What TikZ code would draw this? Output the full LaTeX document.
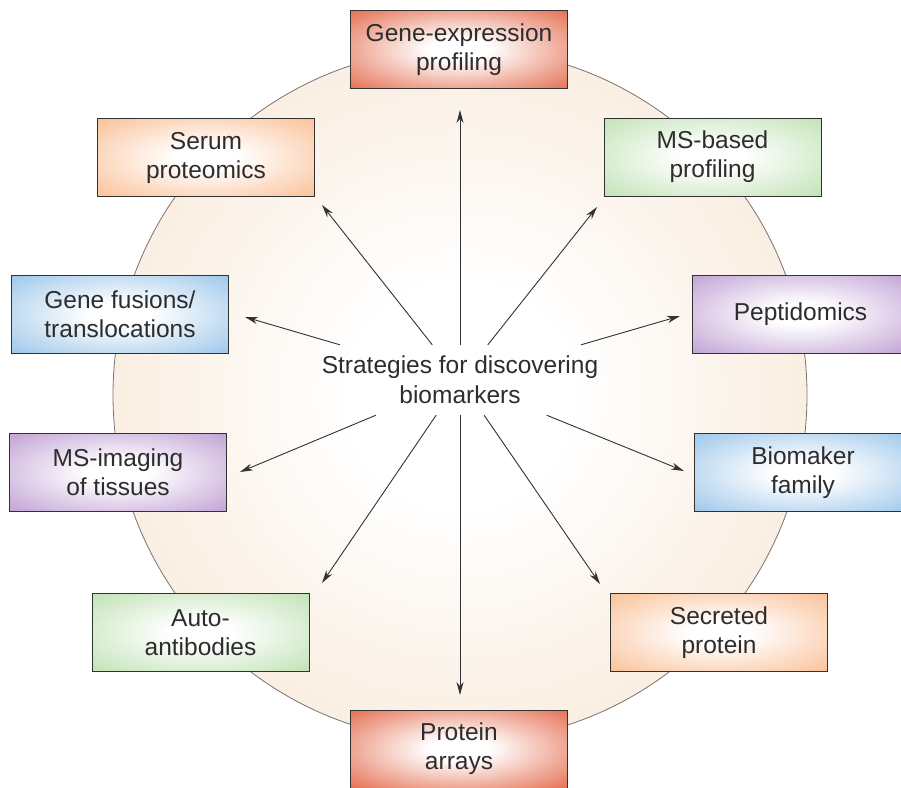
\documentclass[tikz,border=0pt]{standalone}
\usepackage{fontspec}
\setmainfont{Liberation Sans}
\usetikzlibrary{arrows.meta}

\definecolor{inktext}{RGB}{45, 45, 45}
\definecolor{boxline}{RGB}{50, 50, 50}
\definecolor{arrowgray}{RGB}{50, 50, 50}
\definecolor{ringgray}{RGB}{120, 115, 110}
\definecolor{discpeach}{RGB}{246, 224, 200}
\definecolor{hotred}{RGB}{228, 110, 80}
\definecolor{peach}{RGB}{250, 192, 150}
\definecolor{mint}{RGB}{192, 226, 180}
\definecolor{sky}{RGB}{155, 198, 234}
\definecolor{lilac}{RGB}{192, 160, 212}
\colorlet{glowcol}{peach}

\pgfdeclareradialshading[glowcol]{boxglow}{\pgfpointorigin}{%
  color(0bp)=(white); color(7bp)=(white); color(36bp)=(glowcol); color(100bp)=(glowcol)}
\pgfdeclareradialshading{discglow}{\pgfpointorigin}{%
  color(0bp)=(white); color(8bp)=(white); color(40bp)=(discpeach); color(100bp)=(discpeach)}

\begin{document}
\begin{tikzpicture}[x=1pt, y=-1pt,
  stratbox/.style={draw=boxline, line width=0.9pt, minimum width=217pt,
                   minimum height=78pt, align=center, inner sep=2pt, text=inktext,
                   font=\fontsize{24.5}{29}\selectfont, shade, shading=boxglow},
  glow/.style={/utils/exec={\colorlet{glowcol}{#1}}},
  arr/.style={-{Stealth[length=13pt, width=7pt]}, line width=0.9pt, draw=arrowgray}
]
  \useasboundingbox (0,0) rectangle (901,787);

  % background disc
  \node[circle, minimum size=694pt, inner sep=0pt, draw=ringgray, line width=0.8pt,
        shade, shading=discglow] (ring) at (460,395) {};

  % centre label
  \node[align=center, text=inktext, font=\fontsize{24.5}{30}\selectfont,
        minimum width=282pt, minimum height=70pt, inner sep=0pt] (hub) at (460,380)
        {Strategies for discovering\\biomarkers};

  % strategy boxes
  \node[stratbox, glow=hotred] (gexp) at (459,49.5) {Gene-expression\\profiling};
  \node[stratbox, glow=peach] (serum) at (206,157.5) {Serum\\proteomics};
  \node[stratbox, glow=mint] (msbased) at (712.5,157) {MS-based\\profiling};
  \node[stratbox, glow=sky] (fusion) at (120,314) {Gene fusions/\\translocations};
  \node[stratbox, glow=lilac] (peptid) at (800.5,314) {Peptidomics};
  \node[stratbox, glow=lilac] (msimg) at (118,472.5) {MS-imaging\\of tissues};
  \node[stratbox, glow=sky] (biomk) at (803,472.5) {Biomaker\\family};
  \node[stratbox, glow=mint] (auto) at (200.5,632.5) {Auto-\\antibodies};
  \node[stratbox, glow=peach] (secret) at (719,632.5) {Secreted\\protein};
  \node[stratbox, glow=hotred] (parray) at (459,749) {Protein\\arrays};

  % arrow tips
  \coordinate (t-gexp) at (460,110);
  \coordinate (t-parray) at (460,695);
  \coordinate (t-serum) at (322,205);
  \coordinate (t-msbased) at (597,207);
  \coordinate (t-fusion) at (245,317);
  \coordinate (t-peptid) at (680,316);
  \coordinate (t-msimg) at (240,472);
  \coordinate (t-biomk) at (684,471);
  \coordinate (t-auto) at (322,583);
  \coordinate (t-secret) at (600,584);

  \foreach \k in {gexp, parray, serum, msbased, fusion, peptid, msimg, biomk, auto, secret}
    \draw[arr] (hub) -- (t-\k);
\end{tikzpicture}
\end{document}
